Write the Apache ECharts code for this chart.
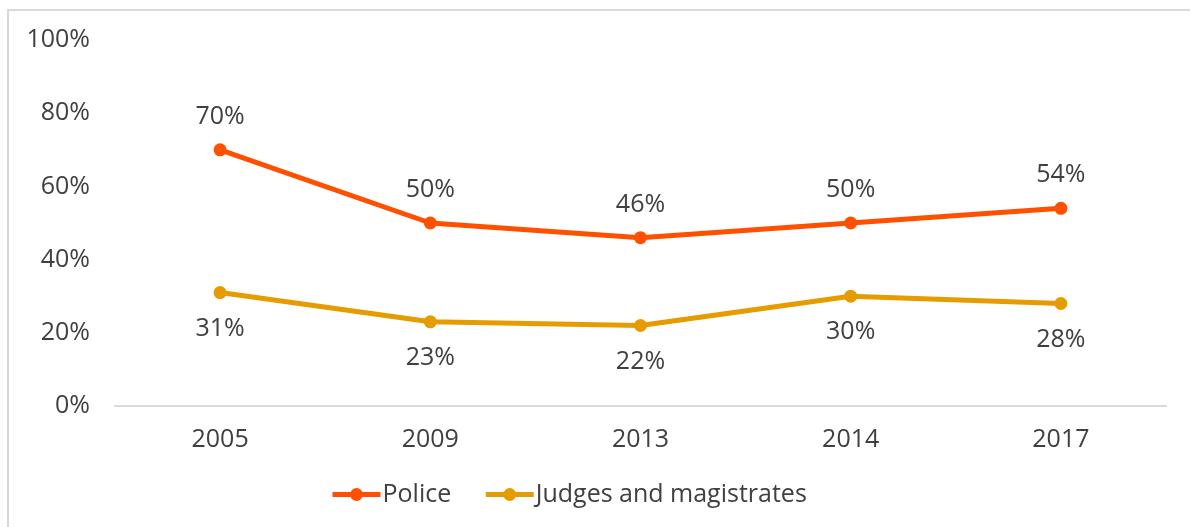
<!DOCTYPE html>
<html>
<head>
<meta charset="utf-8">
<script src="https://cdn.jsdelivr.net/npm/echarts@6/dist/echarts.min.js"></script>
<style>
  html, body { margin: 0; padding: 0; background: #ffffff; }
  #chart { width: 1190px; height: 527px; }
</style>
</head>
<body>
<div id="chart"></div>
<script>
// Survey years and shares (percent) for each group
const years = ['2005', '2009', '2013', '2014', '2017'];
const police = [70, 50, 46, 50, 54];
const judges = [31, 23, 22, 30, 28];
const yTicks = [0, 20, 40, 60, 80, 100];

const FONT = '"Open Sans", "Noto Sans", sans-serif';
const FONT_SIZE = 25;
const TEXT = '#404040';
const POLICE_COLOR = '#ff5000';
const JUDGES_COLOR = '#e69c00';

const chart = echarts.init(document.getElementById('chart'), null, { renderer: 'canvas' });

function lineSeries(name, data, color, pos, dist) {
  return {
    name: name,
    type: 'line',
    data: data,
    symbol: 'circle',
    symbolSize: 13,
    lineStyle: { width: 5, color: color },
    itemStyle: { color: color },
    label: {
      show: true,
      position: pos,
      distance: dist,
      formatter: p => p.value + '%',
      color: TEXT,
      fontFamily: FONT,
      fontSize: FONT_SIZE
    },
    emphasis: { disabled: true },
    animation: false
  };
}

chart.setOption({
  backgroundColor: '#ffffff',
  animation: false,
  textStyle: { fontFamily: FONT },
  graphic: [{
    type: 'rect',
    shape: { x: 8, y: 10, width: 1300, height: 700 },
    style: { fill: 'none', stroke: '#d9d9d9', lineWidth: 2 },
    silent: true,
    z: -1
  }],
  grid: { left: 115, right: 24, top: 40, bottom: 121 },
  legend: {
    top: 477,
    left: 325,
    itemWidth: 48,
    itemHeight: 16,
    itemGap: 32,
    lineStyle: { width: 5 },
    textStyle: { color: TEXT, fontFamily: FONT, fontSize: FONT_SIZE, padding: [0, 0, 0, -3] },
    data: ['Police', 'Judges and magistrates']
  },
  xAxis: {
    type: 'category',
    data: years,
    boundaryGap: true,
    axisLine: { show: true, lineStyle: { color: '#d9d9d9', width: 2 } },
    axisTick: { show: false },
    axisLabel: { color: TEXT, fontFamily: FONT, fontSize: FONT_SIZE, margin: 21 }
  },
  yAxis: {
    type: 'value',
    min: yTicks[0],
    max: yTicks[yTicks.length - 1],
    interval: yTicks[1] - yTicks[0],
    axisLine: { show: false },
    axisTick: { show: false },
    splitLine: { show: false },
    axisLabel: { color: TEXT, fontFamily: FONT, fontSize: FONT_SIZE, margin: 25, formatter: v => v + '%' }
  },
  series: [
    lineSeries('Police', police, POLICE_COLOR, 'top', 14),
    lineSeries('Judges and magistrates', judges, JUDGES_COLOR, 'bottom', 17)
  ]
});
</script>
</body>
</html>
